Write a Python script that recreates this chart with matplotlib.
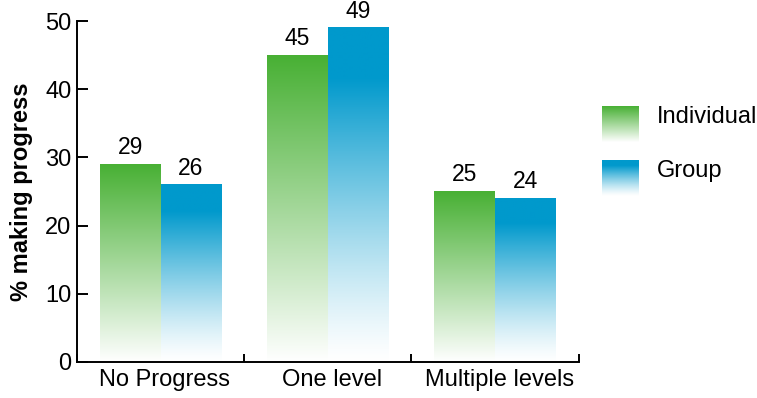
import numpy as np
import matplotlib
matplotlib.use("Agg")
import matplotlib.pyplot as plt

categories = ["No Progress", "One level", "Multiple levels"]
individual = [29, 45, 25]
group = [26, 49, 24]
series_names = ["Individual", "Group"]

GREEN = np.array([72, 176, 52]) / 255
BLUE = np.array([0, 153, 204]) / 255

plt.rcParams["font.family"] = ["Liberation Sans", "DejaVu Sans"]
FS = 17


def gradient(color, solid_frac=0.0, power=1.0, n=256):
    # rows go bottom -> top (origin='lower')
    t = np.linspace(0, 1, n)
    f = np.clip(t / (1 - solid_frac), 0, 1) ** power
    white = np.ones(3)
    rgb = white[None, :] + (color[None, :] - white[None, :]) * f[:, None]
    return rgb[:, None, :]


fig = plt.figure(figsize=(7.57, 3.98), dpi=100)
ax = fig.add_axes([0.1017, 0.0905, 0.6628, 0.8565])

width = 0.363
x = np.arange(len(categories))
styles = [(individual, GREEN, 0.0, 1.0, -width / 2),
          (group, BLUE, 0.15, 1.25, width / 2)]
for vals, color, solid, pw, offset in styles:
    img = gradient(color, solid, pw)
    for xi, v in zip(x, vals):
        x0 = xi + offset - width / 2
        ax.imshow(img, extent=[x0, x0 + width, 0, v], origin="lower",
                  aspect="auto", interpolation="bilinear", zorder=2)
        ax.text(xi + offset, v + 0.75, str(v), ha="center", va="bottom",
                fontsize=16.5, clip_on=False)

ax.set_xlim(-0.5, len(categories) - 0.5)
ax.set_ylim(0, 50)
ax.set_yticks(range(0, 51, 10))
ax.set_xticks(np.arange(len(categories) + 1) - 0.5)
ax.set_xticklabels([])
# category labels sit a touch right of the bar-pair centres in the original
ax.set_xticks(x + 0.025, minor=True)
ax.set_xticklabels(categories, minor=True, fontsize=FS)
ax.tick_params(axis="x", which="minor", length=0, pad=5)
ax.tick_params(axis="x", which="major", direction="in", length=6, width=1.4)
ax.tick_params(axis="y", direction="in", length=8, width=1.4, labelsize=FS, pad=4)
for s in ["top", "right"]:
    ax.spines[s].set_visible(False)
for s in ["left", "bottom"]:
    ax.spines[s].set_linewidth(1.4)
ax.set_ylabel("% making progress", fontsize=FS, fontweight="bold", labelpad=9)

# legend with gradient swatches
for i, (name, color, solid, pw) in enumerate([(series_names[0], GREEN, 0.0, 1.0),
                                              (series_names[1], BLUE, 0.15, 1.25)]):
    top = 106 + i * 54
    sw = fig.add_axes([602 / 757, 1 - (top + 36) / 398, 37 / 757, 36 / 398])
    sw.imshow(gradient(color, solid, pw), origin="lower", aspect="auto",
              interpolation="bilinear", extent=[0, 1, 0, 1])
    sw.axis("off")
    fig.text(657 / 757, 1 - (top + 11) / 398, name, ha="left", va="center",
             fontsize=FS)

fig.savefig("out.png", dpi=100)
